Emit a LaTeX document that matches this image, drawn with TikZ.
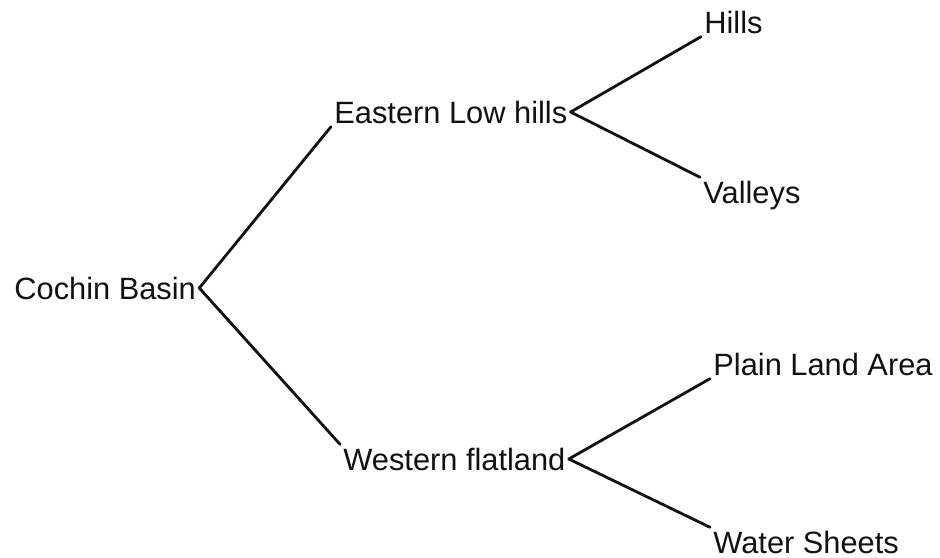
\documentclass[tikz,border=0pt]{standalone}
\usepackage{xcolor}
\usepackage{fontspec}
\usepackage{tikz}
\setmainfont{Liberation Sans}
\definecolor{treeink}{HTML}{111111}

\begin{document}
\begin{tikzpicture}[x=0.5pt,y=-0.5pt,
  termbox/.style={anchor=base west,inner sep=1.5pt,text=treeink,font=\fontsize{15.4pt}{19pt}\selectfont},
  branchline/.style={line width=1.4pt,color=treeink,line cap=round}]
\useasboundingbox (0,0) rectangle (940,557);
\node[termbox] (basin) at (11,299) {Cochin Basin};
\node[termbox] (east) at (331,123) {Eastern Low hills};
\node[termbox] (west) at (340,470) {Western flatland};
\node[termbox] (hills) at (701,33) {Hills};
\node[termbox] (valleys) at (700,203) {Valleys};
\node[termbox] (plain) at (710,375) {Plain Land Area};
\node[termbox] (water) at (710,553) {Water Sheets};
\draw[branchline] (basin.east) -- (east.south west);
\draw[branchline] (basin.east) -- (west.north west);
\draw[branchline] (east.east) -- (hills.south west);
\draw[branchline] (east.east) -- (valleys.north west);
\draw[branchline] (west.east) -- (plain.south west);
\draw[branchline] (west.east) -- (water.north west);
\end{tikzpicture}
\end{document}
